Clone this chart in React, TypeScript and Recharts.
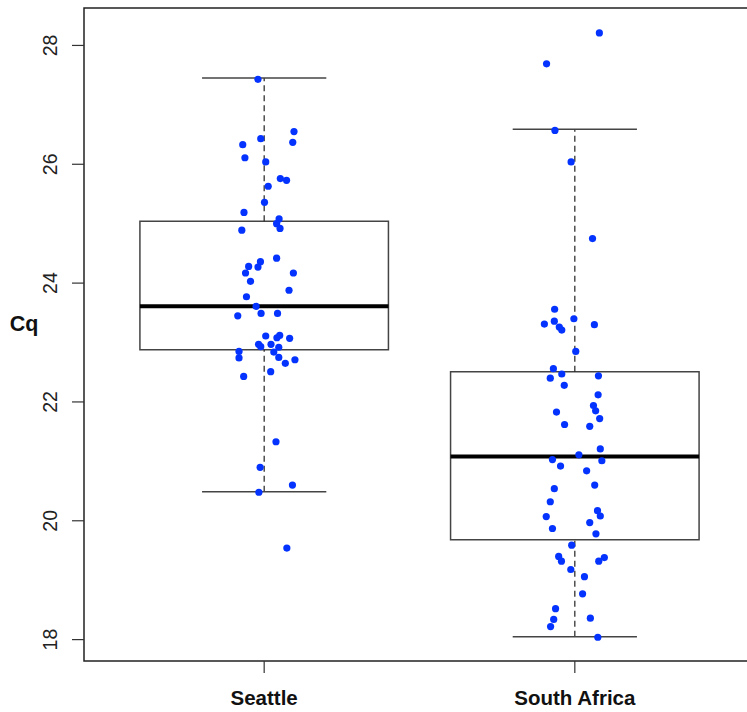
import React from 'react';
import {
  ComposedChart,
  Scatter,
  XAxis,
  YAxis,
  ReferenceArea,
  ReferenceLine,
} from 'recharts';

// groups on the x axis
const categories = ['Seattle', 'South Africa'];

// Cq values
const seattleCq = [
  27.43, 26.55, 26.43, 26.37, 26.33, 26.11, 26.04, 25.76, 25.73, 25.63,
  25.36, 25.19, 25.08, 25.0, 24.89, 24.92, 24.42, 24.36, 24.27, 24.28,
  24.17, 24.17, 24.03, 23.88, 23.77, 23.61, 23.45, 23.49, 23.49, 23.11,
  23.12, 23.08, 23.07, 22.97, 22.93, 22.97, 22.92, 22.85, 22.84, 22.74,
  22.75, 22.71, 22.65, 22.51, 22.43, 21.33, 20.9, 20.6, 20.48, 19.54,
];
const seattleJitter = [
  -0.02, 0.096, -0.011, 0.092, -0.069, -0.062, 0.005, 0.052, 0.072, 0.013,
  0.001, -0.065, 0.048, 0.04, -0.072, 0.051, 0.04, -0.012, -0.02, -0.05,
  -0.06, 0.094, -0.044, 0.08, -0.057, -0.026, -0.085, -0.01, 0.043, 0.005,
  0.05, 0.041, 0.082, -0.018, -0.011, 0.022, 0.047, -0.081, 0.031, -0.081,
  0.047, 0.099, 0.068, 0.021, -0.066, 0.038, -0.013, 0.091, -0.017, 0.073,
];

const southAfricaCq = [
  28.21, 27.69, 26.57, 26.04, 24.75, 23.56, 23.31, 23.36, 23.26, 23.21,
  23.4, 23.3, 22.85, 22.56, 22.47, 22.4, 22.44, 22.28, 22.12, 21.94,
  21.85, 21.83, 21.72, 21.62, 21.59, 21.21, 21.11, 21.03, 21.01, 20.92,
  20.84, 20.6, 20.54, 20.32, 20.17, 20.08, 20.07, 19.97, 19.87, 19.78,
  19.59, 19.4, 19.32, 19.38, 19.32, 19.18, 19.06, 18.77, 18.52, 18.36,
  18.34, 18.22, 18.04,
];
const southAfricaJitter = [
  0.079, -0.091, -0.064, -0.012, 0.057, -0.065, -0.098, -0.066, -0.05, -0.042,
  -0.003, 0.063, 0.003, -0.069, -0.042, -0.079, 0.076, -0.034, 0.075, 0.06,
  0.067, -0.059, 0.08, -0.033, 0.048, 0.082, 0.013, -0.072, 0.087, -0.046,
  0.038, 0.064, -0.066, -0.079, 0.073, 0.082, -0.092, 0.048, -0.072, 0.068,
  -0.01, -0.052, -0.043, 0.095, 0.077, -0.013, 0.031, 0.025, -0.062, 0.05,
  -0.068, -0.078, 0.074,
];

// box statistics per group: lower whisker, Q1, median, Q3, upper whisker
const lowerWhisker = [20.49, 18.05];
const q1 = [22.88, 19.68];
const median = [23.61, 21.08];
const q3 = [25.04, 22.51];
const upperWhisker = [27.45, 26.59];

const yTicks = [18, 20, 22, 24, 26, 28];

const X_DOMAIN: [number, number] = [0.42, 2.58];
const Y_DOMAIN: [number, number] = [17.64, 28.63];
const BOX_HALF = 0.4;
const CAP_HALF = 0.2;

const points = [
  ...seattleCq.map((v, i) => ({ x: 1 + seattleJitter[i], y: v })),
  ...southAfricaCq.map((v, i) => ({ x: 2 + southAfricaJitter[i], y: v })),
];

const FONT = '"Liberation Sans", Arial, Helvetica, sans-serif';

const YTick = ({ x, y, payload }: any) => (
  <text
    x={x - 15}
    y={y}
    transform={`rotate(-90, ${x - 15}, ${y})`}
    textAnchor="middle"
    fontSize={19.5}
    fill="#222"
    fontFamily={FONT}
  >
    {payload.value}
  </text>
);

const XTick = ({ x, y, payload }: any) => (
  <text
    x={x}
    y={y + 32}
    textAnchor="middle"
    fontSize={20.5}
    fontWeight="bold"
    fill="#111"
    fontFamily={FONT}
  >
    {categories[payload.value - 1]}
  </text>
);

const CqLabel = ({ viewBox }: any) => (
  <text
    x={viewBox.x + 24}
    y={viewBox.y + viewBox.height / 2 - 4}
    textAnchor="middle"
    fontSize={21.5}
    fontWeight="bold"
    fill="#111"
    fontFamily={FONT}
  >
    Cq
  </text>
);

export default function App() {
  return (
    <div
      style={{
        position: 'absolute',
        left: 0,
        top: 0,
        width: 747,
        height: 712,
        overflow: 'hidden',
        background: '#fff',
      }}
    >
      <ComposedChart
        width={760}
        height={712}
        margin={{ top: 8, right: 5, left: 0, bottom: 0 }}
      >
        <XAxis
          type="number"
          dataKey="x"
          domain={X_DOMAIN}
          allowDataOverflow
          ticks={[1, 2]}
          tick={<XTick />}
          tickSize={12}
          tickMargin={0}
          tickLine={{ stroke: '#333', strokeWidth: 1.2 }}
          axisLine={false}
          height={51}
        />
        <YAxis
          type="number"
          dataKey="y"
          domain={Y_DOMAIN}
          allowDataOverflow
          ticks={yTicks}
          tick={<YTick />}
          tickSize={12}
          tickMargin={0}
          tickLine={{ stroke: '#333', strokeWidth: 1.2 }}
          axisLine={false}
          width={84}
          label={<CqLabel />}
        />

        {categories.map((c, i) => {
          const cx = i + 1;
          return (
            <React.Fragment key={c}>
              <ReferenceLine
                segment={[
                  { x: cx, y: q3[i] },
                  { x: cx, y: upperWhisker[i] },
                ]}
                stroke="#222"
                strokeWidth={1.2}
                strokeDasharray="6 4"
              />
              <ReferenceLine
                segment={[
                  { x: cx, y: lowerWhisker[i] },
                  { x: cx, y: q1[i] },
                ]}
                stroke="#222"
                strokeWidth={1.2}
                strokeDasharray="6 4"
              />
              <ReferenceLine
                segment={[
                  { x: cx - CAP_HALF, y: upperWhisker[i] },
                  { x: cx + CAP_HALF, y: upperWhisker[i] },
                ]}
                stroke="#444"
                strokeWidth={1.5}
              />
              <ReferenceLine
                segment={[
                  { x: cx - CAP_HALF, y: lowerWhisker[i] },
                  { x: cx + CAP_HALF, y: lowerWhisker[i] },
                ]}
                stroke="#444"
                strokeWidth={1.5}
              />
              <ReferenceArea
                x1={cx - BOX_HALF}
                x2={cx + BOX_HALF}
                y1={q1[i]}
                y2={q3[i]}
                fill="none"
                fillOpacity={0}
                stroke="#444"
                strokeWidth={1.5}
              />
              <ReferenceLine
                segment={[
                  { x: cx - BOX_HALF, y: median[i] },
                  { x: cx + BOX_HALF, y: median[i] },
                ]}
                stroke="#000"
                strokeWidth={4}
              />
            </React.Fragment>
          );
        })}

        {/* plot frame */}
        <ReferenceArea
          x1={X_DOMAIN[0]}
          x2={X_DOMAIN[1]}
          y1={Y_DOMAIN[0]}
          y2={Y_DOMAIN[1]}
          fill="none"
          fillOpacity={0}
          stroke="#222"
          strokeWidth={1.5}
        />

        <Scatter
          data={points}
          fill="#0433FF"
          shape={(p: any) => <circle cx={p.cx} cy={p.cy} r={3.6} fill="#0433FF" />}
          isAnimationActive={false}
        />
      </ComposedChart>
    </div>
  );
}
